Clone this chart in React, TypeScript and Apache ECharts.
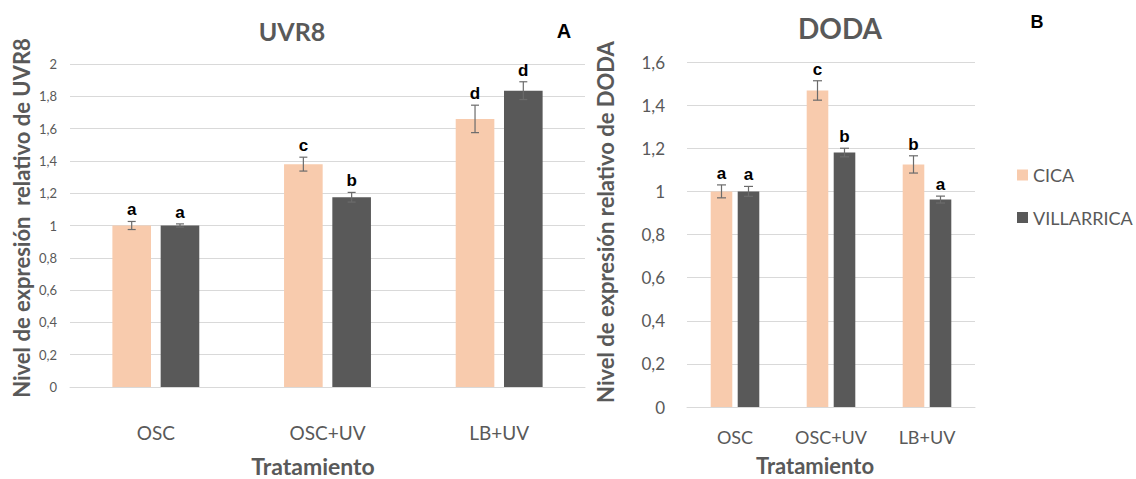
import React, { useEffect, useRef } from "react";
import * as echarts from "echarts";

const categories = ["OSC", "OSC+UV", "LB+UV"];

const uvr8Cica = [1.0, 1.38, 1.66];
const uvr8CicaErr = [0.025, 0.043, 0.085];
const uvr8CicaLetters = ["a", "c", "d"];
const uvr8Vill = [1.0, 1.175, 1.835];
const uvr8VillErr = [0.01, 0.03, 0.055];
const uvr8VillLetters = ["a", "b", "d"];

const dodaCica = [1.0, 1.468, 1.125];
const dodaCicaErr = [0.03, 0.045, 0.04];
const dodaCicaLetters = ["a", "c", "b"];
const dodaVill = [1.0, 1.18, 0.962];
const dodaVillErr = [0.023, 0.02, 0.016];
const dodaVillLetters = ["a", "b", "a"];

const GRAY = "#595959";
const PEACH = "#F8CBAD";
const GRID = "#D9D9D9";
const BAR_FRAC = 0.225;
const GAP_FRAC = 0.25;

const fmt = (v: number) => String(Math.round(v * 10) / 10).replace(".", ",");

function errSeries(values: number[], errs: number[], letters: string[], side: number, axis: number, cap: number) {
  return {
    type: "custom",
    xAxisIndex: axis,
    yAxisIndex: axis,
    z: 10,
    clip: false,
    silent: true,
    encode: { x: 0, y: 1 },
    data: values.map((v, i) => [i, v, errs[i]]),
    renderItem: (params: any, api: any) => {
      const idx = params.dataIndex;
      const cat = api.value(0);
      const val = api.value(1);
      const err = api.value(2);
      const catW = api.size([1, 0])[0];
      const bw = catW * BAR_FRAC;
      const off = ((bw * (1 + GAP_FRAC)) / 2) * side;
      const top = api.coord([cat, val + err]);
      const bot = api.coord([cat, val - err]);
      const x = top[0] + off;
      const ls = { stroke: "#6b6b6b", lineWidth: 1.2 };
      return {
        type: "group",
        children: [
          { type: "line", shape: { x1: x, y1: top[1], x2: x, y2: bot[1] }, style: ls },
          { type: "line", shape: { x1: x - cap / 2, y1: top[1], x2: x + cap / 2, y2: top[1] }, style: ls },
          { type: "line", shape: { x1: x - cap / 2, y1: bot[1], x2: x + cap / 2, y2: bot[1] }, style: ls },
          {
            type: "text",
            style: {
              text: letters[idx],
              x: x,
              y: top[1] - 3,
              align: "center",
              verticalAlign: "bottom",
              textAlign: "center",
              textVerticalAlign: "bottom",
              fill: "#000",
              fontSize: 17,
              fontWeight: "bold",
              fontFamily: "Liberation Sans",
            },
          },
        ],
      };
    },
  };
}

function barSeries(name: string, values: number[], color: string, axis: number) {
  return {
    type: "bar",
    name,
    xAxisIndex: axis,
    yAxisIndex: axis,
    data: values,
    barWidth: "22.5%",
    barGap: "25%",
    itemStyle: { color },
  };
}

export default function App() {
  const ref = useRef<HTMLDivElement>(null);
  useEffect(() => {
    if (!ref.current) return;
    const chart = echarts.init(ref.current, null, { renderer: "svg" });
    const titleStyle = { fill: GRAY, fontWeight: "bold", fontFamily: "Lato", align: "center", verticalAlign: "middle" };
    const option: any = {
      animation: false,
      textStyle: { fontFamily: "Lato" },
      grid: [
        { left: 70, top: 64, width: 515, height: 323 },
        { left: 687, top: 62, width: 288, height: 345 },
      ],
      legend: {
        data: ["CICA", "VILLARRICA"],
        orient: "vertical",
        left: 1012,
        top: 161,
        itemWidth: 11,
        itemHeight: 11,
        itemGap: 24.5,
        icon: "rect",
        textStyle: { fontSize: 18, color: GRAY, fontFamily: "Lato" },
      },
      xAxis: [
        {
          type: "category",
          gridIndex: 0,
          data: categories,
          axisLine: { lineStyle: { color: GRID } },
          axisTick: { show: false },
          axisLabel: { color: GRAY, fontSize: 19, margin: 36, interval: 0, hideOverlap: false },
        },
        {
          type: "category",
          gridIndex: 1,
          data: categories,
          axisLine: { lineStyle: { color: GRID } },
          axisTick: { show: false },
          axisLabel: { color: GRAY, fontSize: 18, margin: 21, interval: 0, hideOverlap: false },
        },
      ],
      yAxis: [
        {
          type: "value",
          gridIndex: 0,
          min: 0,
          max: 2,
          interval: 0.2,
          axisLine: { show: false },
          axisTick: { show: false },
          axisLabel: { color: GRAY, fontSize: 13, margin: 13, formatter: fmt },
          splitLine: { lineStyle: { color: GRID } },
        },
        {
          type: "value",
          gridIndex: 1,
          min: 0,
          max: 1.6,
          interval: 0.2,
          axisLine: { show: false },
          axisTick: { show: false },
          axisLabel: { color: GRAY, fontSize: 17, margin: 22, formatter: fmt },
          splitLine: { lineStyle: { color: GRID } },
        },
      ],
      graphic: [
        { type: "text", x: 292, y: 31, style: { ...titleStyle, text: "UVR8", fontSize: 25 } },
        { type: "text", x: 840, y: 28, style: { ...titleStyle, text: "DODA", fontSize: 28 } },
        { type: "text", x: 564, y: 31, style: { text: "A", align: "center", verticalAlign: "middle", fill: "#000", fontSize: 20, fontWeight: "bold", fontFamily: "Liberation Sans" } },
        { type: "text", x: 1037, y: 22, style: { text: "B", align: "center", verticalAlign: "middle", fill: "#000", fontSize: 18, fontWeight: "bold", fontFamily: "Liberation Sans" } },
        { type: "text", x: 313, y: 466, style: { ...titleStyle, text: "Tratamiento", fontSize: 23 } },
        { type: "text", x: 815, y: 465, style: { ...titleStyle, text: "Tratamiento", fontSize: 22 } },
        { type: "text", x: 21, y: 218, rotation: Math.PI / 2, style: { ...titleStyle, text: "Nivel de expresión  relativo de UVR8", fontSize: 22 } },
        { type: "text", x: 605, y: 222, rotation: Math.PI / 2, style: { ...titleStyle, text: "Nivel de expresión relativo de DODA", fontSize: 22 } },
      ],
      series: [
        barSeries("CICA", uvr8Cica, PEACH, 0),
        barSeries("VILLARRICA", uvr8Vill, GRAY, 0),
        barSeries("CICA", dodaCica, PEACH, 1),
        barSeries("VILLARRICA", dodaVill, GRAY, 1),
        errSeries(uvr8Cica, uvr8CicaErr, uvr8CicaLetters, -1, 0, 8),
        errSeries(uvr8Vill, uvr8VillErr, uvr8VillLetters, 1, 0, 8),
        errSeries(dodaCica, dodaCicaErr, dodaCicaLetters, -1, 1, 9),
        errSeries(dodaVill, dodaVillErr, dodaVillLetters, 1, 1, 9),
      ],
    };
    chart.setOption(option);
    return () => chart.dispose();
  }, []);
  return <div ref={ref} style={{ position: "fixed", left: 0, top: 0, width: 1136, height: 479, background: "#fff" }} />;
}
